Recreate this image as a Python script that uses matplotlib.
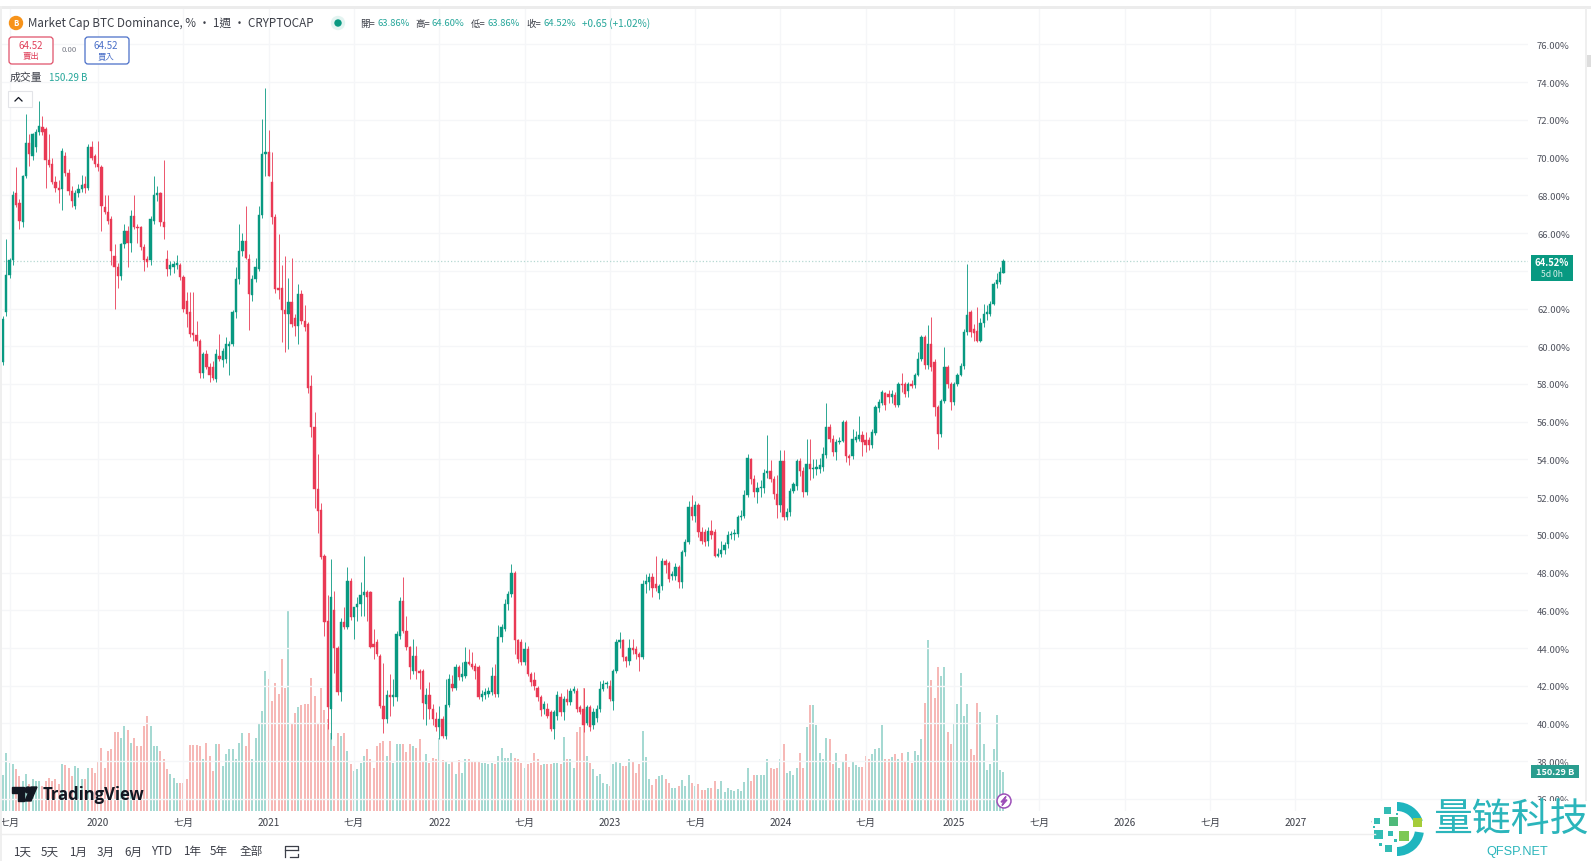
import matplotlib.pyplot as plt
from matplotlib.patches import Circle, FancyBboxPatch, Polygon, Rectangle, Wedge
from datetime import datetime, timedelta

plt.rcParams['font.family'] = ['Noto Sans CJK TC', 'DejaVu Sans']

# Weekly candles: open, high, low, close
ohlc = [
    (59.15,61.6,59.0,61.45), (61.8,65.7,61.6,63.8), (63.8,64.7,63.6,64.55), (64.55,68.25,64.3,68.0),
    (68.15,69.5,67.4,67.5), (67.6,67.8,66.2,66.65), (66.6,69.1,66.3,69.0), (69.0,72.3,68.9,70.8),
    (70.8,71.25,69.55,70.2), (70.1,71.3,69.9,71.25), (70.55,71.5,70.3,71.35), (71.35,73.0,71.2,71.7),
    (71.65,72.2,71.2,71.35), (71.5,71.6,68.4,69.85), (69.85,71.25,69.5,69.6), (69.65,70.0,68.6,68.7),
    (68.7,69.0,68.2,68.4), (68.4,68.8,67.6,68.3), (68.34,70.5,67.2,70.37), (70.07,70.3,69.0,69.2),
    (69.2,69.4,68.0,68.25), (68.25,68.5,67.4,67.7), (67.45,68.3,67.3,68.1), (68.1,68.6,67.9,68.35),
    (68.35,69.1,68.2,68.55), (68.6,69.0,68.1,68.4), (68.4,70.7,68.3,70.55), (70.55,70.9,69.9,70.0),
    (70.07,70.2,69.5,69.67), (69.67,70.9,69.3,69.5), (69.5,69.6,66.1,67.45), (67.37,68.0,67.0,67.1),
    (67.1,68.0,66.5,66.66), (66.75,66.9,64.3,65.07), (64.8,65.4,62.0,64.2), (64.2,64.4,63.1,63.75),
    (63.75,65.5,63.5,65.4), (65.4,66.5,65.2,66.1), (66.1,66.4,64.2,65.5), (65.5,67.2,65.0,66.9),
    (66.9,68.0,66.2,66.3), (66.3,66.5,65.5,66.27), (66.3,66.4,65.1,65.25), (65.25,65.4,64.0,64.55),
    (64.6,64.8,64.2,64.45), (64.55,66.9,64.3,66.75), (66.65,69.0,66.5,68.0), (68.0,68.5,67.7,68.1),
    (68.13,68.2,66.4,66.6), (66.6,69.85,65.7,66.3), (64.63,65.1,63.75,64.1), (64.1,64.5,63.8,64.3),
    (64.2,64.5,63.9,64.35), (64.3,64.85,64.1,64.4), (64.3,64.4,63.5,63.65), (63.65,63.8,61.8,61.98),
    (62.4,62.9,61.0,61.7), (61.8,62.9,60.5,60.65), (60.7,62.9,60.3,60.57), (60.57,61.35,60.0,60.3),
    (60.3,60.4,58.3,58.6), (58.6,59.7,58.3,59.6), (59.6,59.8,58.8,58.9), (58.9,59.1,58.1,58.45),
    (58.9,59.2,58.2,58.3), (58.27,59.85,58.1,59.6), (59.5,60.65,59.2,59.3), (59.25,59.9,58.9,59.77),
    (59.33,60.5,59.1,60.1), (60.0,60.3,58.45,60.1), (60.1,61.9,60.0,61.8), (61.8,64.2,61.5,63.57),
    (63.57,66.5,63.3,65.07), (65.07,66.0,64.8,65.6), (65.6,67.45,64.6,64.7), (64.63,64.9,60.85,62.77),
    (62.7,63.8,62.4,63.57), (63.57,64.7,63.4,64.2), (64.1,67.45,64.0,66.96), (66.96,72.05,66.8,70.2),
    (70.2,73.7,69.0,70.32), (70.32,71.45,69.0,69.05), (68.73,70.3,66.5,66.84), (66.84,67.0,62.8,63.04),
    (63.1,65.95,62.5,63.0), (63.07,64.3,60.2,61.9), (61.9,64.8,59.7,61.7), (61.7,63.6,59.85,62.33),
    (62.33,64.7,61.0,61.2), (61.5,61.7,60.55,61.05), (61.05,63.3,60.1,62.77), (62.77,63.0,61.2,61.36),
    (61.36,62.2,60.8,61.0), (61.17,61.3,57.5,57.8), (57.87,58.5,55.17,55.7), (55.7,56.5,51.4,52.43),
    (52.43,54.3,50.1,51.28), (51.3,51.7,48.7,48.8), (48.9,49.0,44.65,45.4), (45.45,46.8,39.7,40.85),
    (40.77,48.7,39.2,46.7), (46.0,47.0,42.7,44.0), (44.0,44.1,41.5,41.65), (41.65,45.6,41.2,45.4),
    (45.4,46.2,45.0,45.1), (45.1,48.28,45.0,47.57), (47.57,47.7,45.5,45.63), (45.63,46.16,44.5,46.16),
    (46.16,46.7,45.45,46.33), (46.33,47.5,45.7,46.8), (46.8,48.9,45.7,46.95), (46.95,47.1,45.45,46.7),
    (46.95,47.0,44.0,44.04), (44.2,45.0,43.4,44.04), (44.3,44.5,43.6,43.7), (43.6,43.7,40.8,40.95),
    (40.95,43.2,39.5,40.25), (40.25,41.8,40.0,41.5), (41.5,42.6,40.4,41.4), (41.4,42.35,40.95,41.5),
    (41.4,44.9,41.2,44.75), (44.65,46.7,44.5,46.5), (46.5,47.75,44.8,44.9), (44.9,45.7,43.9,44.04),
    (44.04,44.1,42.35,43.0), (42.8,44.5,42.6,43.6), (43.6,44.1,42.35,42.8), (42.8,42.9,41.85,42.7),
    (42.8,42.9,40.25,41.1), (41.05,41.9,39.9,41.5), (41.5,42.2,40.25,40.77), (40.77,41.05,39.9,40.25),
    (40.25,40.6,39.6,39.8), (39.8,40.95,39.2,40.25), (40.25,40.4,39.25,39.35), (39.35,42.36,39.2,41.0),
    (41.0,42.6,40.9,42.36), (42.1,42.55,41.7,41.9), (41.9,43.15,41.8,43.0), (43.0,43.1,42.3,42.45),
    (42.45,43.25,42.25,42.63), (42.54,44.04,42.4,43.24), (43.24,43.95,43.1,43.15), (43.15,43.8,42.9,43.0),
    (43.07,43.2,42.35,42.8), (43.0,43.1,41.3,41.4), (41.4,41.75,41.2,41.57), (41.5,41.9,41.3,41.65),
    (41.57,41.95,41.4,41.74), (41.65,43.0,41.5,42.54), (42.54,43.15,41.4,41.56), (41.56,45.2,41.4,44.57),
    (44.57,45.3,44.3,45.1), (45.0,46.6,44.9,46.33), (46.33,47.0,46.0,46.87), (46.87,48.45,46.7,48.0),
    (48.0,48.1,43.7,44.4), (44.4,44.5,43.2,43.4), (44.3,44.5,43.1,43.24), (43.24,44.3,43.1,43.95),
    (43.95,44.1,42.5,42.63), (42.63,42.75,42.0,42.2), (42.3,42.75,41.8,42.0), (41.9,42.0,41.2,41.4),
    (41.4,41.5,40.4,40.7), (40.75,41.2,40.5,41.05), (40.77,41.1,40.3,40.42), (40.6,40.7,39.6,39.7),
    (39.7,40.7,39.2,40.6), (40.4,41.7,40.2,41.5), (41.4,41.6,40.4,40.6), (40.6,41.45,40.2,41.3),
    (41.3,41.85,41.0,41.13), (41.13,41.9,41.0,41.74), (41.74,42.0,41.6,41.83), (41.74,41.9,40.6,40.77),
    (40.85,41.0,40.5,40.6), (40.77,41.9,39.53,39.9), (40.05,41.0,39.9,40.85), (40.85,41.0,39.6,39.8),
    (39.9,40.8,39.7,40.6), (40.3,41.0,40.1,40.77), (40.77,42.27,40.6,41.83), (41.83,42.3,41.7,42.1),
    (42.1,42.25,41.9,42.15), (42.0,42.3,41.2,41.3), (41.2,42.9,40.7,42.8), (42.8,44.5,42.7,44.3),
    (44.3,44.85,44.0,44.4), (44.4,44.5,43.3,43.5), (43.5,43.6,43.0,43.3), (43.3,44.5,43.1,44.0),
    (44.0,44.5,43.7,43.9), (43.95,44.1,43.4,43.7), (43.7,43.8,42.8,43.55), (43.55,47.6,43.4,47.4),
    (47.4,47.9,46.9,47.55), (47.5,48.0,47.1,47.75), (47.76,48.0,46.7,47.2), (47.4,48.9,47.0,47.2),
    (46.9,47.4,46.6,47.3), (47.3,48.75,47.1,48.64), (48.64,48.7,48.0,48.38), (48.5,48.6,47.5,47.67),
    (47.8,48.1,47.6,47.9), (47.8,48.5,47.6,48.3), (48.3,48.4,47.2,47.5), (47.5,49.2,47.2,49.07),
    (49.07,49.8,48.9,49.6), (49.6,51.8,49.5,51.47), (51.47,52.1,50.8,51.0), (51.0,51.8,50.7,51.56),
    (51.56,51.7,49.9,50.14), (50.14,50.4,49.5,49.7), (50.14,50.3,49.4,49.6), (49.65,50.4,49.4,50.2),
    (50.2,50.8,49.8,50.0), (50.17,50.3,48.8,48.9), (48.9,49.3,48.8,49.0), (49.0,49.7,48.85,49.2),
    (49.2,49.6,49.0,49.47), (49.53,50.2,49.3,49.97), (50.0,50.2,49.8,50.05), (50.05,50.3,49.75,50.1),
    (50.05,51.05,49.9,50.94), (50.94,51.3,50.8,51.0), (51.0,52.4,50.9,52.1), (52.1,54.3,52.0,54.1),
    (54.0,54.1,52.7,52.97), (52.97,53.2,52.0,52.26), (52.26,52.8,51.7,52.5), (52.47,52.9,52.0,52.53),
    (52.5,53.5,52.2,53.3), (53.3,55.27,53.0,53.4), (53.4,53.95,52.8,52.97), (52.97,53.1,51.9,52.17),
    (52.17,53.2,50.9,51.56), (51.56,54.5,51.2,53.94), (53.94,54.5,50.8,50.94), (50.94,51.4,50.8,51.2),
    (51.2,52.5,51.0,52.35), (52.35,52.8,52.2,52.7), (52.6,54.0,52.4,53.9), (53.9,54.1,53.1,53.4),
    (53.4,53.6,52.0,52.26), (52.26,55.1,52.1,53.76), (53.76,55.1,52.9,53.5), (53.5,54.0,53.0,53.55),
    (53.5,54.0,53.2,53.6), (53.5,54.1,53.3,53.7), (53.6,54.65,53.4,54.3), (54.26,57.0,54.1,55.7),
    (55.7,55.9,54.9,55.1), (55.1,55.3,54.2,54.4), (54.4,55.1,53.95,54.9), (54.9,55.2,54.8,55.0),
    (55.0,56.1,54.9,56.0), (56.0,56.1,53.85,54.2), (54.2,54.3,53.7,54.1), (54.17,55.6,54.0,55.1),
    (55.05,55.5,54.9,55.2), (55.1,56.3,55.0,55.3), (55.3,55.5,54.2,54.9), (55.05,55.45,54.4,54.75),
    (55.05,55.2,54.5,54.74), (54.74,55.6,54.6,55.44), (55.4,56.9,55.3,56.77), (56.7,57.2,56.5,57.03),
    (57.0,57.7,56.9,57.56), (57.53,57.6,56.6,56.86), (57.47,57.7,57.0,57.3), (57.3,57.7,57.0,57.47),
    (57.44,57.6,56.8,56.86), (56.86,58.1,56.8,58.0), (58.0,58.6,57.6,57.95), (58.0,58.1,57.3,57.47),
    (57.65,58.1,57.3,58.0), (58.0,58.2,57.8,57.9), (57.92,58.6,57.8,58.48), (58.48,59.7,58.4,59.33),
    (59.33,60.6,59.2,60.48), (60.48,60.6,58.8,58.98), (58.98,61.1,58.8,60.12), (60.12,61.54,58.7,58.9),
    (59.15,59.3,56.3,56.77), (56.77,56.9,54.56,55.35), (55.35,57.2,55.2,57.12), (57.12,59.95,57.0,58.9),
    (58.9,59.0,57.8,58.0), (58.0,58.1,56.6,57.03), (57.03,58.1,56.9,58.0), (58.0,58.6,57.9,58.5),
    (58.48,59.1,58.4,58.94), (58.94,60.9,58.8,60.74), (60.74,64.36,60.6,61.66), (61.84,61.9,60.5,60.74),
    (60.9,61.2,60.3,60.7), (60.8,62.1,60.2,60.3), (60.3,61.5,60.2,61.24), (61.24,62.25,61.0,61.7),
    (61.7,62.2,61.4,61.8), (61.7,62.4,61.6,62.25), (62.25,63.4,62.2,63.3), (63.3,63.9,63.1,63.5),
    (63.4,64.2,63.3,63.92), (63.86,64.60,63.86,64.52),
]

# Weekly volume in billions
volume = [
    137,225,186,180,160,135,115,141,103,122,115,115,96,115,128,115,122,103,180,177,167,135,173,167,122,122,
    167,167,148,192,244,167,231,237,304,304,282,327,314,263,282,250,250,327,366,327,250,250,231,199,160,141,
    128,106,106,106,122,253,253,253,250,199,263,212,154,259,259,173,218,240,240,199,263,302,250,302,199,282,
    340,385,539,507,423,494,449,584,475,770,334,378,402,407,411,411,511,443,337,475,391,353,302,250,302,289,
    302,231,180,154,160,186,212,237,199,167,250,263,269,212,269,186,257,260,260,227,260,250,244,276,192,218,
    186,205,199,282,196,192,180,192,141,196,145,199,201,189,192,189,186,186,183,186,183,212,244,205,205,222,
    205,201,186,167,180,186,225,199,177,180,182,182,186,186,182,286,199,199,167,304,325,475,212,186,160,135,
    141,109,103,96,180,189,186,173,173,199,189,148,183,308,209,124,99,124,135,137,122,109,87,90,96,118,96,
    137,106,96,103,81,81,90,90,114,83,117,74,89,81,76,83,76,112,167,115,137,140,137,137,199,167,160,167,199,
    260,148,154,137,167,225,167,323,407,407,332,225,199,282,276,180,222,167,189,218,171,189,176,171,171,212,
    199,218,237,241,330,199,201,209,218,201,225,189,228,186,231,214,276,417,658,504,434,554,520,554,304,260,
    340,411,532,366,413,237,214,417,382,260,158,183,237,369,158,150.29,
]

x, o, h, l, c = [], [], [], [], []
start = datetime(2019, 6, 17)
for i, row in enumerate(ohlc):
    x.append(start + timedelta(weeks=i))
    o.append(row[0])
    h.append(row[1])
    l.append(row[2])
    c.append(row[3])

candle_colors = ['#089981' if c[i] >= o[i] else '#e93a55' for i in range(len(x))]
vol_colors = ['#a5d9d2' if c[i] >= o[i] else '#f6b8b6' for i in range(len(x))]

# Create the candle chart, the axes span the picture's pixel box of the plot
fig, ax1 = plt.subplots(figsize=(15.91, 8.62), dpi=100)
ax1.set_position([0, 50 / 862, 1528 / 1591, 802 / 862])
ax1.vlines(x, l, h, color=candle_colors, linewidth=0.6, zorder=3)
ax1.bar(x, [abs(c[i] - o[i]) for i in range(len(x))], bottom=[min(c[i], o[i]) for i in range(len(x))],
        width=5, color=candle_colors, edgecolor=candle_colors, linewidth=0.3, zorder=4)
ax1.axhline(64.52, color='#b5d8d2', linestyle=':', linewidth=0.9, zorder=2)

ax1.set_ylim(35.36, 77.88)
ax1.set_xlim(start - timedelta(days=6.4), start + timedelta(days=1528 / 3.28 * 7 - 6.4))
ax1.set_yticks(range(36, 78, 2))
ax1.set_yticklabels(['%.2f%%' % v for v in range(36, 78, 2)], fontsize=6.8, color='#50535e')

# Time axis, half-year labels
ticks = [datetime(2019, 7, 1), datetime(2020, 1, 6), datetime(2020, 7, 6), datetime(2021, 1, 4),
         datetime(2021, 7, 5), datetime(2022, 1, 3), datetime(2022, 7, 4), datetime(2023, 1, 2),
         datetime(2023, 7, 3), datetime(2024, 1, 1), datetime(2024, 7, 1), datetime(2025, 1, 6),
         datetime(2025, 7, 7), datetime(2026, 1, 5), datetime(2026, 7, 6), datetime(2027, 1, 4),
         datetime(2027, 7, 5)]
ax1.set_xticks(ticks)
ax1.set_xticklabels(['七月' if t.month == 7 else str(t.year) for t in ticks], fontsize=7.2, color='#3c3f48')
ax1.tick_params(axis='x', length=0, pad=4)
ax1.grid(True, color='#f5f6f8', linewidth=1)
ax1.set_axisbelow(True)
for side in ax1.spines:
    ax1.spines[side].set_visible(False)

# Create secondary axis for the volume bars, behind the candles
ax2 = ax1.twinx()
ax2.set_position(ax1.get_position())
ax2.bar(x, volume, width=4.2, color=vol_colors, linewidth=0)
ax2.set_ylim(0, 802 * 150.29 / 39)
ax2.axis('off')
ax1.set_zorder(ax2.get_zorder() + 1)
ax1.patch.set_visible(False)
ax1.yaxis.tick_right()  # twinx moved them to the left
ax1.tick_params(axis='y', length=0, pad=6.5)

# Everything around the plot goes on an overlay in pixel coordinates
over = fig.add_axes([0, 0, 1, 1], zorder=10)
over.set_xlim(0, 1591)
over.set_ylim(862, 0)
over.axis('off')

# frame of the screenshot
over.add_patch(Rectangle((0, 7), 1591, 2.5, color='#ececec', linewidth=0))
over.add_patch(Rectangle((0, 7), 2, 855, color='#efefef', linewidth=0))
over.add_patch(Rectangle((1585, 9), 2, 793, color='#efefef', linewidth=0))
over.add_patch(Rectangle((1587, 56), 4, 12, color='#dddddd', linewidth=0))
over.plot([0, 1375], [835, 835], color='#eeeeee', linewidth=1)

# header
over.add_patch(Circle((16, 24), 6.5, color='#f7931a'))
over.text(16, 24, 'B', color='white', fontsize=5.5, ha='center', va='center', fontweight='bold')
over.text(28, 24, 'Market Cap BTC Dominance, % · 1週 · CRYPTOCAP', fontsize=8.4, color='#3c3f48', va='center')
over.add_patch(Circle((338, 24), 6.5, color='#e3f4f1'))
over.add_patch(Circle((338, 24), 3, color='#089981'))
for px, name, val in [(360, '開', '63.86%'), (415, '高', '64.60%'), (471, '低', '63.86%'), (526, '收', '64.52%')]:
    over.text(px, 24, name + '=', fontsize=6.8, color='#3c3f48', va='center')
    over.text(px + 17, 24, val, fontsize=6.8, color='#26a69a', va='center')
over.text(582, 24, '+0.65 (+1.02%)', fontsize=7.2, color='#26a69a', va='center')

# sell and buy buttons
over.add_patch(FancyBboxPatch((9, 38), 44, 27, boxstyle='round,pad=0,rounding_size=3', facecolor='white',
                              edgecolor='#e0526a', linewidth=0.9))
over.add_patch(FancyBboxPatch((85, 38), 44, 27, boxstyle='round,pad=0,rounding_size=3', facecolor='white',
                              edgecolor='#4a6fc8', linewidth=0.9))
over.text(31, 46, '64.52', fontsize=7, color='#e0405a', ha='center', va='center')
over.text(31, 57, '賣出', fontsize=6, color='#e0405a', ha='center', va='center')
over.text(69, 50, '0.00', fontsize=5.6, color='#787b86', ha='center', va='center')
over.text(106, 46, '64.52', fontsize=7, color='#4a6fc8', ha='center', va='center')
over.text(106, 57, '買入', fontsize=6, color='#4a6fc8', ha='center', va='center')
over.text(10, 78, '成交量', fontsize=7.8, color='#3c3f48', va='center')
over.text(49, 78, '150.29 B', fontsize=7, color='#26a69a', va='center')
over.add_patch(Rectangle((8, 92), 24, 16, facecolor='white', edgecolor='#e3e4e8', linewidth=0.8))
over.plot([15, 18.5, 22], [102, 98.5, 102], color='#131722', linewidth=0.9)

# price and volume tags
over.add_patch(Rectangle((1531, 256), 42, 26, color='#089981', linewidth=0))
over.text(1552, 263, '64.52%', fontsize=6.8, color='white', ha='center', va='center', fontweight='bold')
over.text(1552, 275, '5d 0h', fontsize=6.2, color='#d6efe9', ha='center', va='center')
over.add_patch(Rectangle((1531, 766), 48, 13, color='#2a9d8f', linewidth=0))
over.text(1555, 772.5, '150.29 B', fontsize=6.6, color='white', ha='center', va='center', fontweight='bold')

# TradingView mark
over.add_patch(Polygon([(12, 788), (24, 788), (24, 802), (18, 802), (18, 794), (12, 794)], color='#131722'))
over.add_patch(Circle((28, 791), 3, color='#131722'))
over.add_patch(Polygon([(31, 788), (37, 788), (31, 802), (25, 802)], color='#131722'))
over.text(43, 795, 'TradingView', fontsize=12, color='#131722', va='center', fontweight='bold', family='Open Sans')

# lightning mark at the last bar
over.add_patch(Circle((1004, 802), 7, facecolor='white', edgecolor='#9c4fb8', linewidth=1.1))
over.add_patch(Polygon([(1006, 797.5), (1001, 803), (1004, 803), (1002, 806.5), (1007, 801), (1004, 801)], color='#9c4fb8'))

# range buttons under the chart
for px, name in [(22, '1天'), (50, '5天'), (78, '1月'), (106, '3月'), (133, '6月'), (162, 'YTD'), (192, '1年'), (219, '5年'), (251, '全部')]:
    over.text(px, 852, name, fontsize=8.4, color='#3c3f48', ha='center', va='center')
over.plot([285, 285, 298, 298], [858, 847, 847, 851], color='#3c3f48', linewidth=0.9)
over.plot([285, 298], [851, 851], color='#3c3f48', linewidth=0.9)
over.plot([290, 298, 298], [858, 858, 855], color='#3c3f48', linewidth=0.9)

# watermark, covers the corner of the chart
over.add_patch(Rectangle((1372, 802), 219, 60, color='white', linewidth=0))
over.add_patch(Wedge((1397, 830), 27, -90, -18, width=9, color='#1fb5be', linewidth=0))
over.add_patch(Wedge((1397, 830), 27, 8, 90, width=9, color='#1fb5be', linewidth=0))
for bx, by, size, col in [(1387, 812, 7, '#33bcb4'), (1377, 822, 6, '#33bcb4'), (1393, 823, 9, '#4fba7a'),
                          (1417, 824, 9, '#a5cc3a'), (1378, 836, 9, '#33bcb4'), (1390, 835, 5, '#33bcb4'),
                          (1404, 837, 10, '#7dc855'), (1388, 850, 7, '#33bcb4'), (1380, 846, 3, '#33bcb4'),
                          (1374, 828, 2, '#33bcb4'), (1395, 842, 3, '#33bcb4'), (1397, 815, 2, '#33bcb4')]:
    over.add_patch(Rectangle((bx - size / 2, by - size / 2), size, size, color=col, linewidth=0))
over.text(1433, 820, '量链科技', fontsize=28, color='#2bb5bb', va='center', family='Noto Sans CJK SC')
over.text(1517, 852, 'QFSP.NET', fontsize=9.2, color='#2bb5bb', ha='center', va='center', family='Liberation Sans')

plt.savefig('out.png', dpi=100)
plt.close()
